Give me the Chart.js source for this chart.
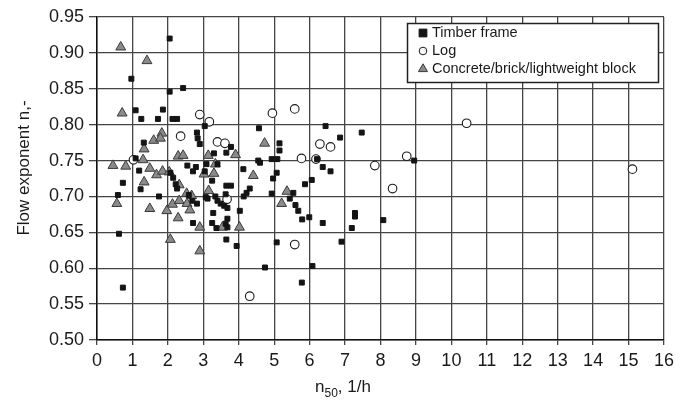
<!DOCTYPE html>
<html>
<head>
<meta charset="utf-8">
<script src="https://cdn.jsdelivr.net/npm/chart.js@4/dist/chart.umd.min.js"></script>
<style>
  html, body { margin: 0; padding: 0; background: #fff; }
  #wrap { width: 689px; height: 406px; }
</style>
</head>
<body>
<div id="wrap"><canvas id="chart" width="689" height="406"></canvas></div>
<script>
// Air change rate at 50 Pa (n50, 1/h) and flow exponent n per house, by construction type
const timberN50 = [0.97, 2.05, 2.05, 2.43, 1.09, 1.25, 1.72, 1.86, 2.13, 2.26, 3.04, 2.82, 2.84, 2.90, 1.32, 1.09, 1.19, 0.73, 2.07, 2.15,
  2.22, 2.26, 2.55, 2.79, 2.71, 3.09, 3.04, 0.59, 1.23, 1.75, 2.59, 2.69, 2.82, 2.71, 3.07, 0.62, 0.73, 4.57, 3.78, 3.65,
  3.30, 5.15, 5.15, 4.55, 4.60, 4.93, 5.09, 3.40, 4.13, 5.07, 4.97, 5.87, 3.25, 3.65, 3.78, 3.63, 4.31, 4.22, 4.14, 4.93,
  5.54, 5.44, 5.60, 5.68, 5.79, 3.12, 3.34, 3.40, 3.49, 3.59, 3.68, 3.28, 4.03, 3.25, 3.68, 3.63, 3.37, 3.68, 3.65, 3.94,
  5.07, 4.74, 5.78, 6.08, 5.99, 6.45, 6.86, 7.47, 6.21, 6.37, 6.59, 6.06, 8.95, 6.37, 6.90, 7.28, 7.28, 7.19, 8.08];
const timberExp = [0.864, 0.920, 0.846, 0.851, 0.820, 0.808, 0.808, 0.821, 0.808, 0.808, 0.798, 0.789, 0.781, 0.773, 0.775, 0.753, 0.736, 0.719, 0.733, 0.726,
  0.717, 0.711, 0.743, 0.741, 0.735, 0.745, 0.735, 0.702, 0.710, 0.700, 0.702, 0.694, 0.690, 0.663, 0.699, 0.648, 0.573, 0.795, 0.769, 0.761,
  0.760, 0.774, 0.764, 0.750, 0.747, 0.752, 0.752, 0.745, 0.738, 0.733, 0.725, 0.717, 0.722, 0.715, 0.715, 0.703, 0.711, 0.705, 0.700, 0.704,
  0.705, 0.697, 0.688, 0.680, 0.668, 0.697, 0.700, 0.694, 0.690, 0.687, 0.684, 0.677, 0.680, 0.663, 0.669, 0.662, 0.656, 0.657, 0.640, 0.631,
  0.636, 0.601, 0.580, 0.603, 0.671, 0.798, 0.782, 0.789, 0.752, 0.741, 0.735, 0.723, 0.750, 0.663, 0.637, 0.677, 0.672, 0.656, 0.667];

const logN50 = [1.03, 2.36, 2.90, 3.17, 3.40, 3.61, 3.67, 4.31, 4.95, 5.58, 5.58, 5.77, 6.18, 6.29, 6.59, 7.84, 8.34, 8.74, 10.43, 15.11];
const logExp = [0.751, 0.784, 0.814, 0.804, 0.776, 0.774, 0.696, 0.561, 0.816, 0.822, 0.633, 0.753, 0.752, 0.773, 0.769, 0.743, 0.711, 0.756, 0.802, 0.738];

const masonryN50 = [0.67, 1.41, 0.71, 1.83, 1.60, 1.79, 1.33, 1.30, 2.29, 2.43, 3.14, 0.45, 0.81, 1.49, 1.68, 1.85, 2.04, 1.33, 2.32, 3.02,
  3.30, 3.34, 3.91, 4.73, 4.41, 0.56, 1.49, 1.97, 2.13, 2.32, 2.29, 2.54, 2.53, 2.62, 2.67, 3.15, 5.36, 5.21, 2.07, 2.90,
  2.90, 3.54, 4.02];
const masonryExp = [0.908, 0.889, 0.816, 0.788, 0.778, 0.781, 0.766, 0.751, 0.756, 0.757, 0.757, 0.743, 0.742, 0.739, 0.730, 0.735, 0.734, 0.720, 0.716, 0.731,
  0.732, 0.745, 0.758, 0.774, 0.729, 0.690, 0.683, 0.680, 0.689, 0.694, 0.670, 0.690, 0.704, 0.681, 0.701, 0.708, 0.707, 0.690, 0.640, 0.657,
  0.624, 0.657, 0.657];

const seriesNames = ['Timber frame', 'Log', 'Concrete/brick/lightweight block'];
const xTickValues = [0, 1, 2, 3, 4, 5, 6, 7, 8, 9, 10, 11, 12, 13, 14, 15, 16];
const yTickValues = [0.50, 0.55, 0.60, 0.65, 0.70, 0.75, 0.80, 0.85, 0.90, 0.95];

const pairs = (xs, ys) => xs.map((x, i) => ({ x: x, y: ys[i] }));

const FONT = '"Liberation Sans", Arial, Helvetica, sans-serif';
const INK = '#1a1a1a';

const styles = [
  { pointStyle: 'rect', radius: 3.5, backgroundColor: '#141414', borderColor: '#141414', borderWidth: 1 },
  { pointStyle: 'circle', radius: 4.3, backgroundColor: '#ffffff', borderColor: '#1a1a1a', borderWidth: 1.1 },
  { pointStyle: 'triangle', radius: 5.7, backgroundColor: '#8a8a8a', borderColor: '#3a3a3a', borderWidth: 1 }
];

// Legend box and axis titles are drawn on the canvas after the chart
const decorations = {
  id: 'decorations',
  afterDraw(chart) {
    const ctx = chart.ctx;
    ctx.save();

    // legend in the upper right of the plot
    const box = { x: 407.5, y: 23.5, w: 251, h: 59 };
    ctx.fillStyle = '#ffffff';
    ctx.fillRect(box.x, box.y, box.w, box.h);
    ctx.strokeStyle = '#222';
    ctx.lineWidth = 1.5;
    ctx.strokeRect(box.x, box.y, box.w, box.h);
    ctx.font = '14.5px ' + FONT;
    ctx.textBaseline = 'middle';
    ctx.textAlign = 'left';
    const legendMarks = [
      { pointStyle: 'rect', radius: 5.5, backgroundColor: '#141414', borderColor: '#141414', borderWidth: 1 },
      { pointStyle: 'circle', radius: 3.8, backgroundColor: '#ffffff', borderColor: '#1a1a1a', borderWidth: 1 },
      { pointStyle: 'triangle', radius: 5.2, backgroundColor: '#8a8a8a', borderColor: '#3a3a3a', borderWidth: 1 }
    ];
    const rowY = [33, 51, 68.5];
    seriesNames.forEach((name, i) => {
      const m = legendMarks[i];
      ctx.fillStyle = m.backgroundColor;
      ctx.strokeStyle = m.borderColor;
      ctx.lineWidth = m.borderWidth;
      Chart.helpers.drawPoint(ctx, { pointStyle: m.pointStyle, radius: m.radius, rotation: 0, borderWidth: m.borderWidth },
        423, rowY[i] + (i === 2 ? 0.5 : 0));
      ctx.fillStyle = INK;
      ctx.fillText(name, 432, rowY[i]);
    });

    // y axis title
    ctx.fillStyle = INK;
    ctx.font = '17px ' + FONT;
    ctx.save();
    ctx.translate(24, 168);
    ctx.rotate(-Math.PI / 2);
    ctx.textAlign = 'center';
    ctx.textBaseline = 'middle';
    ctx.fillText('Flow exponent n,-', 0, 0);
    ctx.restore();

    // x axis title with subscript
    const main = '17px ' + FONT, sub = '12px ' + FONT;
    ctx.textBaseline = 'alphabetic';
    ctx.textAlign = 'left';
    ctx.font = main; const wN = ctx.measureText('n').width; const wTail = ctx.measureText(', 1/h').width;
    ctx.font = sub; const wSub = ctx.measureText('50').width;
    let x = 343 - (wN + wSub + wTail) / 2;
    const base = 392;
    ctx.font = main; ctx.fillText('n', x, base); x += wN;
    ctx.font = sub; ctx.fillText('50', x, base + 5); x += wSub;
    ctx.font = main; ctx.fillText(', 1/h', x, base);
    ctx.restore();
  }
};

const makeSet = (label, xs, ys, s, order) => ({
  label: label,
  data: pairs(xs, ys),
  pointStyle: s.pointStyle,
  pointRadius: s.radius,
  pointHoverRadius: s.radius,
  pointBackgroundColor: s.backgroundColor,
  pointBorderColor: s.borderColor,
  pointBorderWidth: s.borderWidth,
  backgroundColor: s.backgroundColor,
  borderColor: s.borderColor,
  order: order
});

new Chart(document.getElementById('chart'), {
  type: 'scatter',
  data: {
    datasets: [
      makeSet(seriesNames[0], timberN50, timberExp, styles[0], 1),
      makeSet(seriesNames[1], logN50, logExp, styles[1], 2),
      makeSet(seriesNames[2], masonryN50, masonryExp, styles[2], 3)
    ]
  },
  options: {
    responsive: false,
    animation: false,
    devicePixelRatio: 1,
    layout: { padding: { top: 17, right: 25, left: 0, bottom: 0 } },
    plugins: { legend: { display: false }, tooltip: { enabled: false } },
    scales: {
      x: {
        type: 'linear',
        min: 0, max: 16,
        afterFit: (s) => { s.height = 66; },
        afterBuildTicks: (s) => { s.ticks = xTickValues.map(v => ({ value: v })); },
        ticks: { font: { family: FONT, size: 18 }, color: INK, padding: 5, maxRotation: 0, autoSkip: false,
                 callback: (v) => String(v) },
        grid: { color: '#454545', lineWidth: 1.3, tickLength: 5, drawTicks: true },
        border: { color: '#111', width: 1.5 }
      },
      y: {
        type: 'linear',
        min: 0.5, max: 0.95,
        afterFit: (s) => { s.width = 97; },
        afterBuildTicks: (s) => { s.ticks = yTickValues.map(v => ({ value: v })); },
        ticks: { font: { family: FONT, size: 18 }, color: INK, padding: 5, autoSkip: false,
                 callback: (v) => Number(v).toFixed(2) },
        grid: { color: '#454545', lineWidth: 1.3, tickLength: 8, drawTicks: true },
        border: { color: '#111', width: 1.5 }
      }
    }
  },
  plugins: [decorations]
});
</script>
</body>
</html>
